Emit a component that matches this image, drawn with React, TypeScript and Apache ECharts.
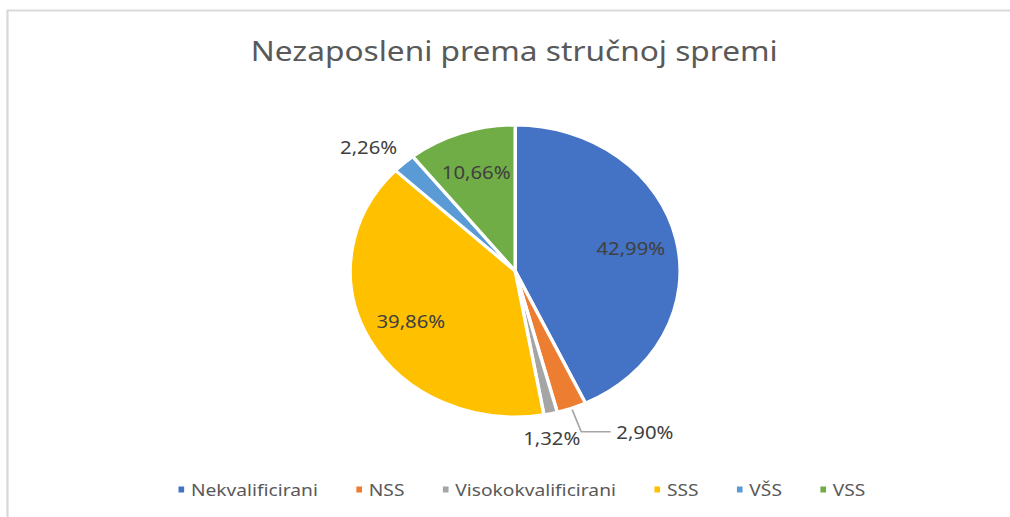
import React, { useEffect, useRef } from "react";
import * as echarts from "echarts";

const categories = ["Nekvalificirani", "NSS", "Visokokvalificirani", "SSS", "VŠS", "VSS"];
const shares = [42.99, 2.9, 1.32, 39.86, 2.26, 10.66];
const colors = ["#4472C4", "#ED7D31", "#A5A5A5", "#FFC000", "#5B9BD5", "#70AD47"];
const titleText = "Nezaposleni prema stručnoj spremi";

// The reference image is stretched horizontally; draw on a narrower canvas and stretch it.
const W = 894;
const H = 517;
const STRETCH = 1010 / W;
const CX = 456;
const CY = 271;
const INSIDE = new Set(["Nekvalificirani", "SSS", "VSS"]);

const fmt = (v: number) => v.toFixed(2).replace(".", ",") + "%";

export default function App() {
  const ref = useRef<HTMLDivElement>(null);
  useEffect(() => {
    if (!ref.current) return;
    const chart = echarts.init(ref.current, undefined, { renderer: "svg" });
    const labelFor = (name: string) => {
      if (INSIDE.has(name)) return { position: "inside" };
      if (name === "Visokokvalificirani")
        return { position: "outside", offset: [-31, 17] };
      if (name === "VŠS") return { position: "outside", offset: [14, 0] };
      return { position: "outside" };
    };
    const lineFor = (name: string) => {
      if (name === "NSS") return { show: true, length: 25, length2: 26 };
      if (name === "Visokokvalificirani") return { show: false, length: 8, length2: 0 };
      if (name === "VŠS") return { show: false, length: 22, length2: 0 };
      return { show: false };
    };
    const data = categories.map((name, i) => ({
      name,
      value: shares[i],
      itemStyle: { color: colors[i] },
      label: labelFor(name),
      labelLine: lineFor(name),
    }));
    chart.setOption({
      animation: false,
      backgroundColor: "#ffffff",
      title: {
        text: titleText,
        left: 217,
        top: 31,
        textStyle: {
          fontFamily: "Noto Sans",
          fontSize: 28,
          fontWeight: "normal",
          color: "#595959",
        },
      },
      legend: {
        bottom: 14,
        left: 151,
        icon: "rect",
        itemWidth: 7,
        itemHeight: 8,
        itemGap: 32,
        textStyle: { fontFamily: "Noto Sans", fontSize: 17, color: "#595959" },
        data: categories,
      },
      graphic: [
        {
          type: "polyline",
          shape: { points: [[6.6, 600], [6.6, 10.5], [1000, 10.5]] },
          style: { stroke: "#d9d9d9", lineWidth: 2, fill: "none" },
          silent: true,
        },
      ],
      series: [
        {
          type: "pie",
          center: [CX, CY],
          radius: 146,
          startAngle: 90,
          clockwise: true,
          avoidLabelOverlap: false,
          itemStyle: { borderColor: "#ffffff", borderWidth: 3 },
          label: {
            fontFamily: "Noto Sans",
            fontSize: 18,
            color: "#404040",
            formatter: (p: any) => fmt(p.value),
          },
          labelLine: { lineStyle: { color: "#a6a6a6", width: 1.5 }, smooth: false },
          labelLayout: (p: any) => {
            const name = categories[p.dataIndex];
            if (!INSIDE.has(name)) return {};
            const r = p.labelRect;
            const lx = r.x + r.width / 2;
            const ly = r.y + r.height / 2;
            return { dx: (lx - CX) * 0.38, dy: (ly - CY) * 0.38 };
          },
          data,
        },
      ],
    });
    return () => chart.dispose();
  }, []);
  return (
    <div
      ref={ref}
      style={{
        position: "fixed",
        left: 0,
        top: 0,
        width: W,
        height: H,
        transform: `scaleX(${STRETCH})`,
        transformOrigin: "0 0",
      }}
    />
  );
}
